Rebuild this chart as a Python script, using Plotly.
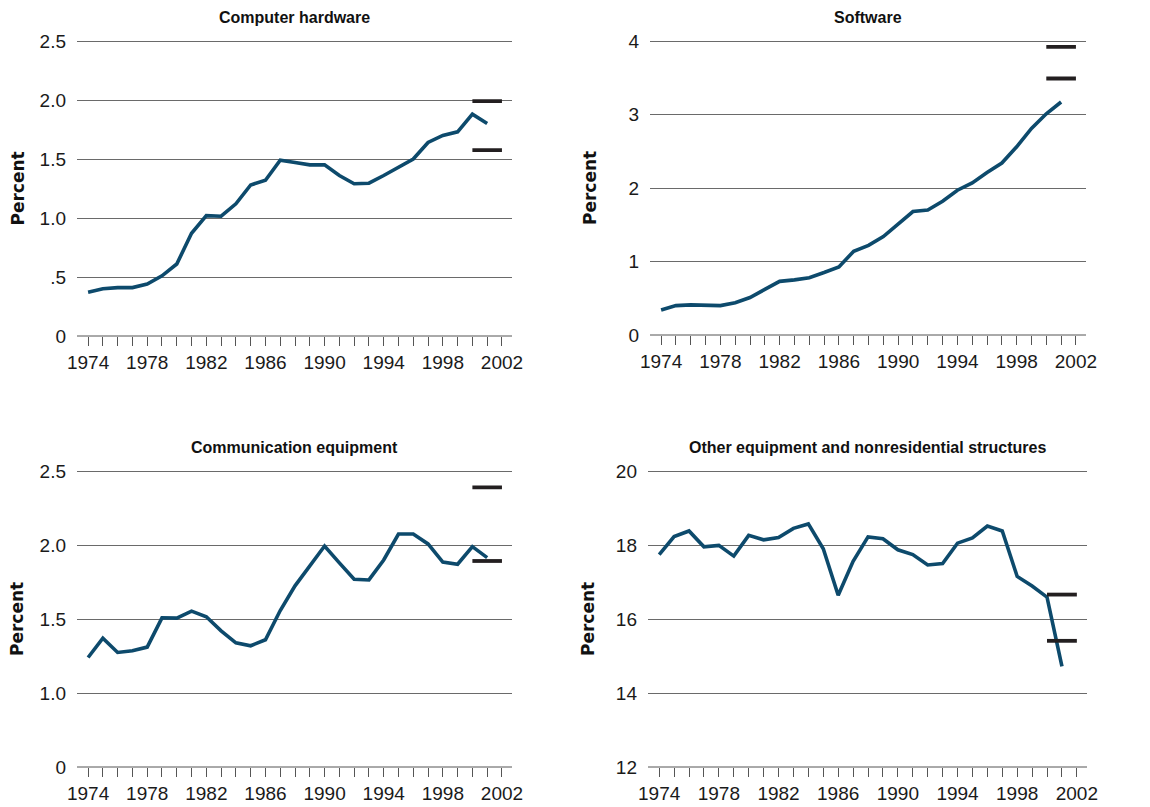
import plotly.graph_objects as go

# Years covered by every series
years = list(range(1974, 2002))

# Share of total (percent) by asset type
hardware = [0.37, 0.40, 0.41, 0.41, 0.44, 0.51, 0.61, 0.87, 1.02, 1.015,
            1.12, 1.28, 1.32, 1.49, 1.47, 1.45, 1.45, 1.36, 1.29, 1.295,
            1.36, 1.43, 1.50, 1.64, 1.70, 1.73, 1.88, 1.80]
software = [0.34, 0.40, 0.41, 0.41, 0.40, 0.44, 0.51, 0.62, 0.73, 0.75,
            0.78, 0.85, 0.925, 1.14, 1.22, 1.34, 1.51, 1.68, 1.70, 1.82,
            1.97, 2.07, 2.21, 2.34, 2.56, 2.81, 3.01, 3.17]
communication = [1.24, 1.37, 1.274, 1.285, 1.31, 1.508, 1.506, 1.553, 1.515, 1.42,
                 1.339, 1.319, 1.36, 1.557, 1.724, 1.863, 1.993, 1.879, 1.769, 1.764,
                 1.899, 2.074, 2.074, 2.007, 1.885, 1.87, 1.989, 1.915]
other = [17.74, 18.23, 18.38, 17.95, 17.99, 17.70, 18.26, 18.14, 18.20, 18.45,
         18.57, 17.90, 16.64, 17.56, 18.22, 18.17, 17.87, 17.74, 17.46, 17.50,
         18.05, 18.19, 18.51, 18.38, 17.15, 16.89, 16.59, 14.72]

# Range markers drawn over 2000-2002
range_years = [2000, 2002]
hardware_range = [1.99, 1.575]
software_range = [3.92, 3.49]
communication_range = [2.39, 1.892]
other_range = [16.66, 15.41]

titles = ["Computer hardware", "Software", "Communication equipment",
          "Other equipment and nonresidential structures"]

# y-axis ticks per panel (communication uses a broken axis: bottom label "0")
y_tickvals = [
    [0, 0.5, 1.0, 1.5, 2.0, 2.5],
    [0, 1, 2, 3, 4],
    [0.5, 1.0, 1.5, 2.0, 2.5],
    [12, 14, 16, 18, 20],
]
y_ticktext = [
    ["0", ".5", "1.0", "1.5", "2.0", "2.5"],
    ["0", "1", "2", "3", "4"],
    ["0", "1.0", "1.5", "2.0", "2.5"],
    ["12", "14", "16", "18", "20"],
]
x_tickvals = [1974, 1978, 1982, 1986, 1990, 1994, 1998, 2002]

series = [hardware, software, communication, other]
ranges = [hardware_range, software_range, communication_range, other_range]

W, H = 1150, 807
# panel boxes in pixels: (left, right, top, bottom)
boxes = [(77, 512, 41, 336), (650, 1086, 41, 335),
         (77, 512, 471, 767), (648, 1087, 471, 767)]

LINE = "#0d4a6c"
BAR = "#231f20"
GRID = "#6a6a6a"
FONT = "Liberation Sans"
PAD = 1.5  # extra pixels above the top gridline so it is not clipped

fig = go.Figure()
for i in range(4):
    ax = "" if i == 0 else str(i + 1)
    fig.add_trace(go.Scatter(x=years, y=series[i], mode="lines",
                             line=dict(color=LINE, width=3.6),
                             xaxis="x" + ax, yaxis="y" + ax,
                             showlegend=False, hoverinfo="skip"))
    for v in ranges[i]:
        fig.add_trace(go.Scatter(x=range_years, y=[v, v], mode="lines",
                                 line=dict(color=BAR, width=3.8),
                                 xaxis="x" + ax, yaxis="y" + ax,
                                 showlegend=False, hoverinfo="skip"))

layout = dict(width=W, height=H, margin=dict(l=0, r=0, t=0, b=0, pad=0,
                                             autoexpand=False),
              paper_bgcolor="white", plot_bgcolor="white",
              font=dict(family=FONT, size=19, color="#1a1a1a"))
annotations = []
for i, (l, r, t, b) in enumerate(boxes):
    ax = "" if i == 0 else str(i + 1)
    xd = [l / W, r / W]
    yd = [1 - b / H, 1 - (t - PAD) / H]
    yv = y_tickvals[i]
    span = yv[-1] - yv[0]
    top = yv[-1] + span * PAD / (b - t)
    layout["xaxis" + ax] = dict(
        domain=xd, range=[1973.25, 2002.68], anchor="y" + ax,
        automargin=False,
        tickvals=x_tickvals, ticks="outside", ticklen=9, tickwidth=1,
        tickcolor="#555555", showgrid=False, zeroline=False,
        showline=False, ticklabelstandoff=0,
        tickfont=dict(family=FONT, size=19, color="#1a1a1a"),
        minor=dict(dtick=1, tick0=1974, ticks="outside", ticklen=9,
                   tickwidth=1, tickcolor="#555555", showgrid=False),
    )
    layout["yaxis" + ax] = dict(
        domain=yd, range=[yv[0], top], anchor="x" + ax,
        automargin=False,
        tickvals=yv, ticktext=y_ticktext[i], ticks="",
        showgrid=True, gridcolor=GRID, gridwidth=1, zeroline=False,
        showline=False, ticklabelstandoff=10,
        tickfont=dict(family=FONT, size=19, color="#1a1a1a"),
    )
    annotations.append(dict(
        text="<b>" + titles[i] + "</b>", xref="paper", yref="paper",
        x=(l + r) / 2 / W, y=1 - (t - 24) / H, xanchor="center",
        yanchor="middle", showarrow=False,
        font=dict(family=FONT, size=16, color="#111111")))
    annotations.append(dict(
        text="<b>Percent</b>", xref="paper", yref="paper",
        x=(l - 60) / W, y=1 - (t + b) / 2 / H, xanchor="center",
        yanchor="middle", showarrow=False, textangle=-90,
        font=dict(family="DejaVu Sans", size=17, color="#111111")))

layout["annotations"] = annotations
fig.update_layout(**layout)
# baseline across the bottom of each panel
for i, (l, r, t, b) in enumerate(boxes):
    fig.add_shape(type="line", xref="paper", yref="paper",
                  x0=l / W, x1=r / W, y0=1 - b / H, y1=1 - b / H,
                  line=dict(color="#555555", width=1))

fig.write_html("out.html")
